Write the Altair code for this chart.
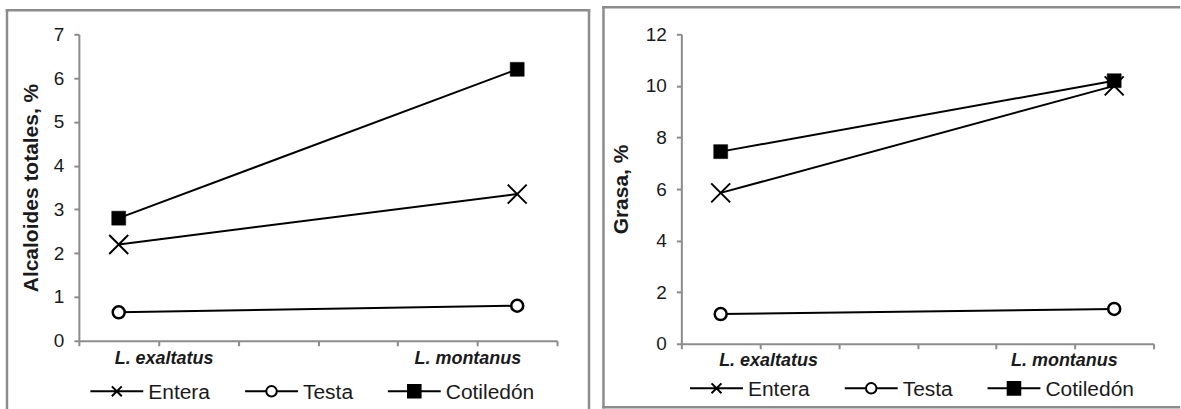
import altair as alt
import pandas as pd

# --- data -------------------------------------------------------------------
especies = ["L. exaltatus", "L. montanus"]
series = ["Entera", "Testa", "Cotiledón"]

# the category axis has six slots; each species sits in the middle of its slot
ranuras = [0, 5]
n_ranuras = 6

alcaloides_entera = [2.2, 3.35]
alcaloides_testa = [0.65, 0.8]
alcaloides_cotiledon = [2.8, 6.2]

grasa_entera = [5.85, 10.0]
grasa_testa = [1.15, 1.35]
grasa_cotiledon = [7.45, 10.2]


def tabla(entera, testa, cotiledon):
    filas = []
    for serie, valores in zip(series, [entera, testa, cotiledon]):
        for esp, r, v in zip(especies, ranuras, valores):
            filas.append({"especie": esp, "serie": serie, "pos": r + 0.5, "valor": v})
    return pd.DataFrame(filas)


# --- styling ----------------------------------------------------------------
gris = "#8c8c8c"
texto = "#1a1a1a"
fuente = "Liberation Sans"

# legend symbols: a line with the series marker in its middle
a = -8 / 7
b = a + 53 / 7
c = (a + b) / 2
m = -0.3  # vertical position of the symbol line


def f(v):
    return f"{v:.3f}"


x_h, r_c, s_q = 0.71, 0.75, 0.9
simbolos = [
    f"M{f(a)},{f(m)}H{f(b)}M{f(c - x_h)},{f(m - x_h)}L{f(c + x_h)},{f(m + x_h)}"
    f"M{f(c - x_h)},{f(m + x_h)}L{f(c + x_h)},{f(m - x_h)}",
    f"M{f(a)},{f(m)}H{f(c - r_c)}M{f(c + r_c)},{f(m)}H{f(b)}"
    f"M{f(c - r_c)},{f(m)}A{r_c},{r_c} 0 1,0 {f(c + r_c)},{f(m)}"
    f"A{r_c},{r_c} 0 1,0 {f(c - r_c)},{f(m)}Z",
    f"M{f(a)},{f(m)}H{f(b)}M{f(c - s_q)},{f(m - s_q)}H{f(c + s_q)}V{f(m + s_q)}H{f(c - s_q)}Z",
]
rellenos = ["transparent", "white", "black"]
trazos = ["black", "black", "black"]


def borde(x0, x1, y0, y1, derecho=True):
    capa = alt.Chart(alt.Data(values=[{}]))
    estilo = dict(color=gris, strokeWidth=2.5, strokeCap="square")
    lados = [
        capa.mark_rule(**estilo).encode(x=alt.value(x0), x2=alt.value(x1), y=alt.value(y0)),
        capa.mark_rule(**estilo).encode(x=alt.value(x0), x2=alt.value(x1), y=alt.value(y1)),
        capa.mark_rule(**estilo).encode(x=alt.value(x0), y=alt.value(y0), y2=alt.value(y1)),
    ]
    if derecho:
        lados.append(
            capa.mark_rule(**estilo).encode(x=alt.value(x1), y=alt.value(y0), y2=alt.value(y1))
        )
    return lados


def panel(datos, titulo, ymax, ypaso, ancho, alto, marco, titulo_pad, etiq_pad,
          desplaz, ley_x, ley_y):
    base = alt.Chart(datos)
    etiquetas = (
        f"datum.value == 1 ? '{especies[0]}' : "
        f"datum.value == {n_ranuras - 1} ? '{especies[1]}' : ''"
    )
    x = alt.X(
        "pos:Q", title=None,
        scale=alt.Scale(domain=[0, n_ranuras], nice=False, zero=False),
        axis=alt.Axis(
            values=list(range(n_ranuras + 1)), labelExpr=etiquetas, grid=False,
            domainColor=gris, domainWidth=2, tickColor=gris, tickWidth=2, tickSize=5,
            labelFont=fuente, labelFontSize=18, labelFontWeight="bold",
            labelFontStyle="italic", labelColor=texto, labelPadding=etiq_pad,
            labelFlush=False, labelOverlap=False,
            labelOffset={
                "condition": {"test": f"datum.value == {n_ranuras - 1}", "value": desplaz[1]},
                "value": desplaz[0],
            },
        ),
    )
    y = alt.Y(
        "valor:Q", title=titulo,
        scale=alt.Scale(domain=[0, ymax], nice=False),
        axis=alt.Axis(
            values=list(range(0, ymax + 1, ypaso)), grid=False,
            domainColor=gris, domainWidth=2, tickColor=gris, tickWidth=2, tickSize=5,
            labelFont=fuente, labelFontSize=19, labelColor=texto, labelPadding=10,
            titleFont=fuente, titleFontSize=21, titleFontWeight="bold",
            titleColor=texto, titlePadding=titulo_pad,
        ),
    )

    lineas = base.mark_line(color="black", strokeWidth=2).encode(x=x, y=y, detail="serie:N")
    entera = base.transform_filter(alt.datum.serie == "Entera").mark_point(
        shape="M-1,-1L1,1M-1,1L1,-1", size=361, filled=False,
        stroke="black", strokeWidth=2, opacity=1,
    ).encode(x=x, y=y)
    testa = base.transform_filter(alt.datum.serie == "Testa").mark_point(
        shape="circle", size=144, filled=True, fill="white",
        stroke="black", strokeWidth=2.5, opacity=1,
    ).encode(x=x, y=y)
    cotiledon = base.transform_filter(alt.datum.serie == "Cotiledón").mark_point(
        shape="square", size=196, filled=True, fill="black",
        stroke="black", strokeWidth=0.5, opacity=1,
    ).encode(x=x, y=y)

    leyenda = alt.Legend(
        title=None, orient="none", legendX=ley_x, legendY=ley_y, direction="horizontal",
        labelFont=fuente, labelFontSize=21, labelColor=texto, labelOffset=39.5,
        columnPadding=30, symbolSize=196, symbolStrokeWidth=2,
        symbolStrokeColor="black", symbolOpacity=1, padding=0,
    )
    guia = base.transform_filter("false").mark_point(
        stroke="black", strokeWidth=2, opacity=1
    ).encode(
        x=x, y=y,
        shape=alt.Shape("serie:N", scale=alt.Scale(domain=series, range=simbolos), legend=leyenda),
        fill=alt.Fill("serie:N", scale=alt.Scale(domain=series, range=rellenos), legend=leyenda),
        stroke=alt.Stroke("serie:N", scale=alt.Scale(domain=series, range=trazos), legend=leyenda),
    )

    capas = marco + [lineas, entera, testa, cotiledon, guia]
    return alt.layer(*capas).properties(width=ancho, height=alto)


izquierda = panel(
    tabla(alcaloides_entera, alcaloides_testa, alcaloides_cotiledon),
    "Alcaloides totales, %", 7, 1, 479, 307,
    borde(-72, 511, -24, 376.5), 12, 4, (5, -10), 9, 349,
)
derecha = panel(
    tabla(grasa_entera, grasa_testa, grasa_cotiledon),
    "Grasa, %", 12, 2, 473, 310,
    borde(-78, 498.5, -27, 373.5, derecho=False), 14, 3, (8, -11), 6.2, 346,
)

chart = (
    alt.hconcat(izquierda, derecha, spacing=10.5)
    .resolve_scale(shape="independent", fill="independent", stroke="independent")
    .properties(padding={"left": 5, "top": 5, "right": 0, "bottom": 0}, background="white")
    .configure_view(strokeWidth=0)
)

chart.save("out.html", embed_options={"renderer": "svg", "actions": False})
